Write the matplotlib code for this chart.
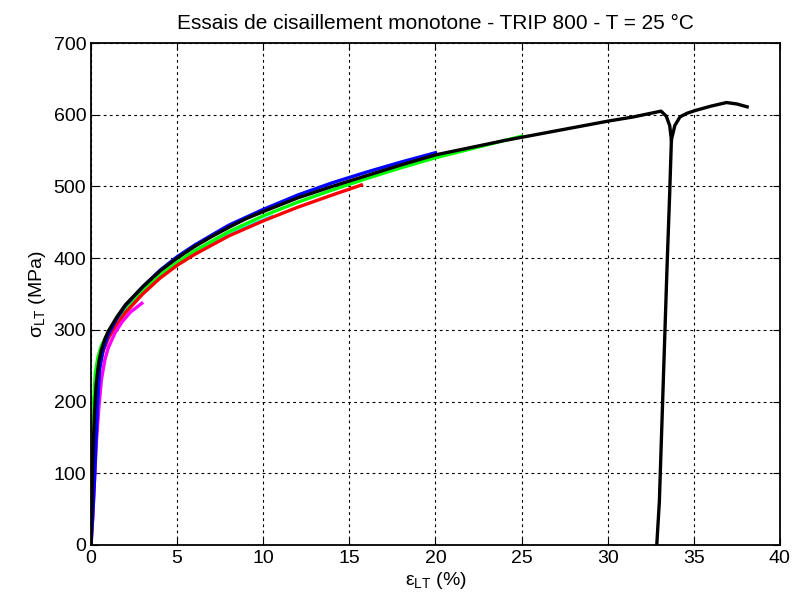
import matplotlib

matplotlib.use('Agg')
import matplotlib.pyplot as plt

plt.rcParams['font.family'] = ['Liberation Sans', 'DejaVu Sans']
plt.rcParams['mathtext.fontset'] = 'custom'
plt.rcParams['mathtext.rm'] = 'Liberation Sans'
plt.rcParams['mathtext.it'] = 'Liberation Sans'

# shear tests, strain (%) vs stress (MPa)
cyan_x = [0, 0.1, 0.2, 0.35, 0.5, 0.8, 1.2, 2, 3, 4, 5, 6, 8, 10.5]
cyan_y = [0, 75, 160, 225, 255, 280, 300, 328, 353, 373, 391, 407, 434, 458]

green_x = [0, 0.05, 0.1, 0.15, 0.25, 0.4, 0.6, 1.0, 1.5, 2, 3, 4, 5, 6, 8, 10,
           12, 14, 16, 18, 20, 22, 24, 25]
green_y = [0, 80, 150, 200, 240, 262, 278, 296, 314, 330, 355, 376, 394, 410,
           437, 459, 478, 495, 511, 526, 540, 552, 564, 570]

red_x = [0, 0.1, 0.2, 0.35, 0.5, 0.7, 1.0, 1.5, 2, 3, 4, 5, 6, 8, 10, 12, 14, 15.7]
red_y = [0, 70, 150, 220, 252, 270, 288, 308, 324, 350, 372, 390, 405, 431,
         452, 471, 488, 502]

magenta_x = [0, 0.1, 0.2, 0.3, 0.45, 0.6, 0.8, 1.0, 1.4, 1.8, 2.3, 2.95]
magenta_y = [0, 40, 90, 140, 190, 230, 258, 275, 296, 311, 325, 337]

blue_x = [0, 0.1, 0.2, 0.3, 0.4, 0.5, 0.7, 1.0, 1.5, 2, 3, 4, 5, 6, 8, 10, 12,
          14, 16, 18, 20]
blue_y = [0, 40, 90, 150, 205, 245, 272, 293, 316, 334, 360, 383, 402, 418,
          446, 468, 488, 505, 520, 534, 547]

black_x = [0, 0.05, 0.1, 0.2, 0.3, 0.45, 0.6, 0.8, 1.0, 1.5, 2, 3, 4, 5, 6, 7,
           8, 9, 10, 12, 14, 16, 18, 20, 22, 24, 26, 28, 30, 31.5, 32.5, 33.1,
           33.4, 33.6, 33.7]
black_y = [0, 60, 120, 185, 225, 255, 272, 287, 298, 318, 335, 360, 382, 400,
           416, 430, 443, 455, 465, 484, 500, 515, 530, 544, 554, 564, 573,
           582, 591, 597, 602, 605, 598, 585, 565]

# after the dip: drop line and the end of the test
black2_x = [32.85, 33.0, 33.15, 33.3, 33.45, 33.6, 33.7, 33.9, 34.2, 34.6,
            35.1, 36, 36.9, 37.5, 38.1]
black2_y = [0, 60, 170, 280, 390, 490, 565, 585, 597, 602, 606, 612, 617,
            615, 611]

fig = plt.figure(figsize=(7.95, 6.06), dpi=100)
ax = fig.add_axes([0.1145, 0.1007, 0.8665, 0.8283])

lw = 2.4
ax.plot(cyan_x, cyan_y, color=(0, 1, 1), lw=lw)
ax.plot(green_x, green_y, color=(0, 1, 0), lw=lw)
ax.plot(red_x, red_y, color=(1, 0, 0), lw=lw)
ax.plot(magenta_x, magenta_y, color=(1, 0, 1), lw=lw)
ax.plot(blue_x, blue_y, color=(0, 0, 1), lw=lw)
ax.plot(black_x, black_y, color='k', lw=lw)
ax.plot(black2_x, black2_y, color='k', lw=lw)

ax.set_xlim(0, 40)
ax.set_ylim(0, 700)
ax.set_xticks(range(0, 41, 5))
ax.set_yticks(range(0, 701, 100))
ax.grid(True, color='k', linestyle=(0, (2.5, 3)), linewidth=0.8)
ax.tick_params(direction='in', top=True, right=True, labelsize=14, length=5)
for s in ax.spines.values():
    s.set_linewidth(1.3)

ax.set_title('Essais de cisaillement monotone - TRIP 800 - T = 25 °C',
             fontsize=15, pad=10)
ax.set_xlabel(r'$\varepsilon_{\mathrm{LT}}$ (%)', fontsize=14, labelpad=2)
ax.set_ylabel(r'$\sigma_{\mathrm{LT}}$ (MPa)', fontsize=14)

fig.savefig('out.png', dpi=100)
